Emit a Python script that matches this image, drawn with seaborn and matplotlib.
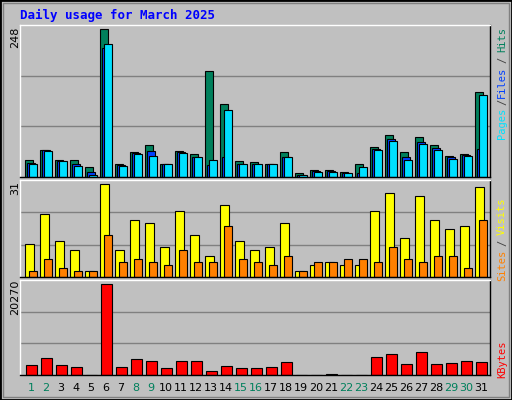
import numpy as np
import matplotlib
matplotlib.use("Agg")
import matplotlib.pyplot as plt
from matplotlib.patches import Rectangle
import seaborn as sns

days = list(range(1, 32))
weekend = [1, 2, 8, 9, 15, 16, 22, 23, 29, 30]
hits = [28, 46, 29, 28, 16, 248, 21, 42, 53, 22, 43, 38, 178, 122, 26, 25, 21, 42, 6, 11, 11, 8, 21, 50, 70, 42, 67, 53, 36, 38, 143]
files = [24, 45, 27, 22, 9, 217, 20, 40, 43, 22, 42, 34, 20, 33, 22, 22, 21, 34, 4, 10, 10, 7, 7, 47, 63, 33, 58, 48, 34, 37, 47]
pages = [22, 44, 26, 19, 4, 223, 19, 39, 36, 22, 41, 33, 29, 113, 21, 21, 21, 33, 3, 9, 9, 6, 17, 45, 61, 29, 56, 46, 31, 36, 137]
visits = [11, 21, 12, 9, 2, 31, 9, 19, 18, 10, 22, 14, 7, 24, 12, 9, 10, 18, 2, 4, 5, 4, 4, 22, 28, 13, 27, 19, 16, 17, 30]
sites = [2, 6, 3, 2, 2, 14, 5, 6, 5, 4, 9, 5, 5, 17, 6, 5, 4, 7, 2, 5, 5, 6, 6, 5, 10, 6, 5, 7, 7, 3, 19]
kbytes = [2219, 3847, 2219, 1775, 100, 20270, 1775, 3625, 3107, 1553, 3107, 3107, 888, 1997, 1553, 1553, 1775, 2885, 100, 100, 300, 100, 100, 3995, 4660, 2441, 5104, 2441, 2663, 3107, 2885]

C_HITS, C_FILES, C_PAGES = "#00805c", "#0040ff", "#00e0ff"
C_VIS, C_SITES, C_KB = "#ffff00", "#ff8000", "#ff0000"
BG = "#c0c0c0"

sns.set_theme(style="white")
W, H = 512, 400
fig = plt.figure(figsize=(W / 100, H / 100), dpi=100, facecolor=BG)

def px_axes(x0, y0, x1, y1):
    return fig.add_axes([x0 / W, 1 - y1 / H, (x1 - x0) / W, (y1 - y0) / H])

d = np.array(days, dtype=float)

def bars(ax, vals, off, width, color):
    sns.barplot(x=d + off, y=vals, native_scale=True, width=width, color=color,
                edgecolor="black", linewidth=0.8, saturation=1, ax=ax)

def style(ax, top, maxlabel, label_y):
    ax.set_facecolor(BG)
    ax.set_xlim(0.267, 31.6)
    ax.set_ylim(0, top)
    for g in (top / 3, 2 * top / 3):
        ax.axhline(g, color="#808080", lw=1, zorder=0)
    ax.set_xticks([]); ax.set_yticks([])
    ax.set_xlabel(""); ax.set_ylabel("")
    for s in ax.spines.values():
        s.set_color("black"); s.set_linewidth(1)
    ax.spines["top"].set_color("white"); ax.spines["left"].set_color("white")
    fig.text(15 / W, 1 - label_y / H, maxlabel, rotation=90, ha="center", va="center",
             fontsize=8, color="black")

ax1 = px_axes(20, 25, 490, 177)
bars(ax1, hits, -0.15, 0.51, C_HITS)
bars(ax1, files, -0.01, 0.51, C_FILES)
bars(ax1, pages, 0.12, 0.51, C_PAGES)
style(ax1, 248 * 152 / 148, "248", 37)

ax2 = px_axes(20, 180, 490, 277)
bars(ax2, visits, -0.10, 0.55, C_VIS)
bars(ax2, sites, 0.12, 0.51, C_SITES)
style(ax2, 31 * 96 / 92, "31", 188)

ax3 = px_axes(20, 280, 490, 375)
bars(ax3, kbytes, 0.02, 0.71, C_KB)
style(ax3, 20270 * 95 / 91, "20270", 297)

for day in days:
    xp = 31 + (day - 1) * 15
    fig.text(xp / W, 1 - 388 / H, str(day), ha="center", va="center", fontsize=8,
             color=C_HITS if day in weekend else "black")

mono = dict(family="DejaVu Sans Mono", fontsize=7.5, rotation=90, ha="center", va="center")
def rlabel(y, s, c):
    fig.text(502 / W, 1 - y / H, s, color=c, **mono)

rlabel(123, "Pages", C_PAGES); rlabel(102, "/", "#404040"); rlabel(82, "Files", C_FILES)
rlabel(60, "/", "#404040"); rlabel(40, "Hits", C_HITS)
rlabel(265, "Sites", C_SITES); rlabel(243, "/", "#404040"); rlabel(216, "Visits", C_VIS)
rlabel(359, "KBytes", C_KB)

fig.text(20 / W, 1 - 15 / H, "Daily usage for March 2025", color="#0000ff",
         family="DejaVu Sans Mono", fontweight="bold", fontsize=9, ha="left", va="center")

fig.patches.append(Rectangle((0, 0), 1, 1, transform=fig.transFigure, fill=False,
                             edgecolor="black", linewidth=2))
fig.patches.append(Rectangle((3 / W, 3 / H), 1 - 6 / W, 1 - 6 / H, transform=fig.transFigure,
                             fill=False, edgecolor="#808080", linewidth=1))
fig.savefig("out.png", dpi=100, facecolor=BG)
